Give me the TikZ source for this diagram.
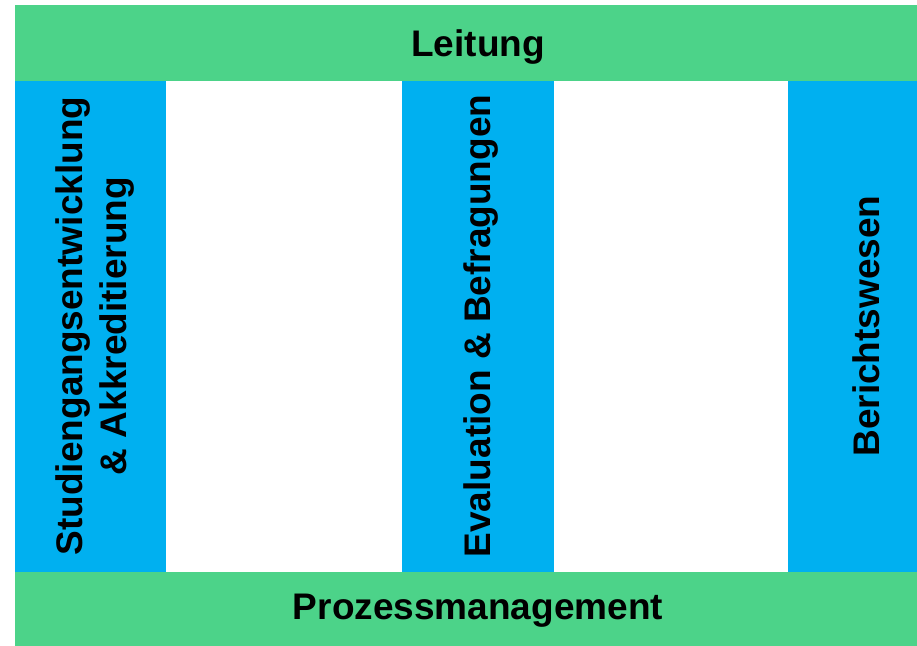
\documentclass[tikz,border=0pt]{standalone}
\usepackage{fontspec}
\setmainfont{Liberation Sans}
\definecolor{barGreen}{RGB}{76,211,137}
\definecolor{colBlue}{RGB}{0,176,240}
\tikzset{
  bar/.style={fill=barGreen, draw=none},
  col/.style={fill=colBlue, draw=none},
  lbl/.style={font=\fontsize{37}{44}\selectfont\bfseries, inner sep=0pt, align=center},
}
\begin{document}
\begin{tikzpicture}[x=1pt,y=-1pt]
\clip (0,0) rectangle (917,645);
\fill[white] (0,0) rectangle (917,645);
% bars
\fill[bar] (15,5) rectangle (940,81);
\fill[bar] (15,572) rectangle (940,650);
% columns
\fill[col] (15,81) rectangle (166,572);
\fill[col] (402,81) rectangle (554,572);
\fill[col] (788,81) rectangle (940,572);
% labels
\node[lbl] (leitung) at (478,47) {Leitung};
\node[lbl] (prozess) at (478,611) {Prozessmanagement};
\node[lbl, rotate=90] (studien) at (95,326) {Studiengangsentwicklung\\\& Akkreditierung};
\node[lbl, rotate=90] (eval) at (481,326) {Evaluation \& Befragungen};
\node[lbl, rotate=90] (bericht) at (866,326) {Berichtswesen};
\end{tikzpicture}
\end{document}
